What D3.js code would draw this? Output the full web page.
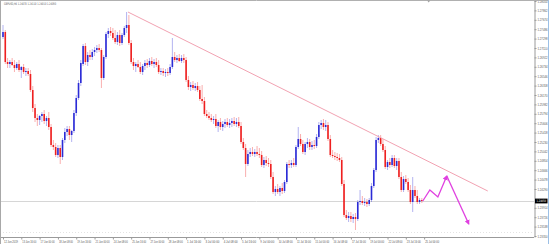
<!DOCTYPE html>
<html>
<head>
<meta charset="utf-8">
<script src="https://cdn.jsdelivr.net/npm/d3@7"></script>
<style>
  html, body { margin: 0; padding: 0; background: #fff; }
  svg { display: block; font-family: "DejaVu Sans", sans-serif; }
</style>
</head>
<body>
<svg id="chart" width="549" height="244"></svg>
<script>
// GBPUSD H4 bars (one value per bar)
const opens = [
  1.2733,1.2743,1.2683,1.2679,1.2683,1.2677,1.2671,1.2679,1.2667,1.2673,
  1.2663,1.2665,1.2659,1.2627,1.2591,1.2571,1.2567,1.2575,1.2579,1.2565,
  1.2571,1.2553,1.2517,1.2513,1.2497,1.2511,1.2493,1.2527,1.2543,1.2549,
  1.2537,1.2545,1.2581,1.2611,1.2641,1.2679,1.2715,1.2683,1.2697,1.2693,
  1.2703,1.2707,1.2711,1.2707,1.2651,1.2693,1.2739,1.2745,1.2741,1.2731,
  1.2723,1.2737,1.2721,1.2737,1.2751,1.2757,1.2721,1.2683,1.2675,1.2679,
  1.2673,1.2663,1.2675,1.2681,1.2677,1.2685,1.2679,1.2683,1.2677,1.2663,
  1.2665,1.2661,1.2663,1.2661,1.2673,1.2693,1.2687,1.2691,1.2685,1.2691,
  1.2687,1.2647,1.2633,1.2637,1.2631,1.2635,1.2627,1.2609,1.2605,1.2579,
  1.2575,1.2571,1.2567,1.2569,1.2555,1.2563,1.2553,1.2559,1.2563,1.2557,
  1.2561,1.2565,1.2559,1.2563,1.2555,1.2523,1.2511,1.2479,1.2499,1.2503,
  1.2499,1.2503,1.2499,1.2497,1.2477,1.2487,1.2481,1.2479,1.2453,1.2423,
  1.2429,1.2423,1.2431,1.2425,1.2443,1.2479,1.2477,1.2481,1.2477,1.2513,
  1.2529,1.2519,1.2503,1.2519,1.2523,1.2513,1.2517,1.2515,1.2533,1.2557,
  1.2561,1.2553,1.2557,1.2529,1.2497,1.2495,1.2493,1.2491,1.2487,1.2439,
  1.2377,1.2371,1.2375,1.2369,1.2373,1.2369,1.2403,1.2405,1.2401,1.2403,
  1.2399,1.2407,1.2435,1.2467,1.2527,1.2531,1.2519,1.2507,1.2473,1.2483,
  1.2477,1.2491,1.2475,1.2485,1.2453,1.2427,1.2449,1.2443,1.2427,1.2403,
  1.2427,1.2415,1.2403,1.2407
];
const highs = [
  1.2757,1.2747,1.2691,1.2687,1.2691,1.2687,1.2683,1.2687,1.2675,1.2679,
  1.2671,1.2671,1.2667,1.2635,1.2599,1.2579,1.2577,1.2583,1.2587,1.2575,
  1.2583,1.2559,1.2527,1.2521,1.2517,1.2517,1.2531,1.2551,1.2555,1.2555,
  1.2547,1.2587,1.2617,1.2647,1.2687,1.2719,1.2721,1.2703,1.2707,1.2709,
  1.2713,1.2717,1.2719,1.2711,1.2697,1.2743,1.2751,1.2753,1.2751,1.2747,
  1.2743,1.2747,1.2741,1.2755,1.2783,1.2777,1.2727,1.2691,1.2683,1.2687,
  1.2683,1.2679,1.2687,1.2689,1.2691,1.2693,1.2689,1.2691,1.2687,1.2671,
  1.2671,1.2669,1.2671,1.2679,1.2731,1.2703,1.2697,1.2699,1.2697,1.2699,
  1.2693,1.2655,1.2643,1.2645,1.2641,1.2643,1.2635,1.2637,1.2613,1.2587,
  1.2583,1.2579,1.2575,1.2579,1.2567,1.2571,1.2565,1.2569,1.2571,1.2569,
  1.2571,1.2573,1.2571,1.2573,1.2563,1.2531,1.2519,1.2507,1.2511,1.2513,
  1.2509,1.2515,1.2511,1.2505,1.2493,1.2495,1.2491,1.2487,1.2463,1.2435,
  1.2439,1.2435,1.2441,1.2447,1.2483,1.2487,1.2487,1.2491,1.2517,1.2553,
  1.2539,1.2527,1.2523,1.2531,1.2529,1.2525,1.2527,1.2539,1.2563,1.2567,
  1.2569,1.2567,1.2563,1.2537,1.2507,1.2503,1.2501,1.2499,1.2493,1.2447,
  1.2387,1.2383,1.2383,1.2379,1.2381,1.2407,1.2427,1.2415,1.2411,1.2409,
  1.2411,1.2441,1.2471,1.2533,1.2537,1.2537,1.2529,1.2515,1.2487,1.2491,
  1.2497,1.2497,1.2491,1.2491,1.2463,1.2455,1.2457,1.2451,1.2437,1.2453,
  1.2435,1.2427,1.2411,1.2411
];
const lows = [
  1.2729,1.2679,1.2671,1.2671,1.2675,1.2663,1.2667,1.2663,1.2651,1.2659,
  1.2655,1.2655,1.2623,1.2583,1.2563,1.2555,1.2557,1.2563,1.2559,1.2555,
  1.2547,1.2513,1.2507,1.2493,1.2491,1.2479,1.2487,1.2521,1.2535,1.2527,
  1.2523,1.2541,1.2575,1.2607,1.2635,1.2675,1.2677,1.2675,1.2687,1.2687,
  1.2695,1.2701,1.2703,1.2631,1.2647,1.2689,1.2731,1.2735,1.2727,1.2719,
  1.2717,1.2715,1.2717,1.2733,1.2741,1.2717,1.2679,1.2667,1.2663,1.2671,
  1.2659,1.2657,1.2667,1.2671,1.2673,1.2675,1.2671,1.2673,1.2659,1.2657,
  1.2655,1.2653,1.2655,1.2657,1.2669,1.2683,1.2681,1.2683,1.2681,1.2681,
  1.2643,1.2627,1.2625,1.2627,1.2625,1.2623,1.2605,1.2599,1.2575,1.2571,
  1.2567,1.2563,1.2559,1.2551,1.2543,1.2547,1.2545,1.2551,1.2553,1.2551,
  1.2553,1.2555,1.2553,1.2551,1.2519,1.2507,1.2453,1.2475,1.2493,1.2495,
  1.2493,1.2495,1.2491,1.2473,1.2471,1.2475,1.2473,1.2449,1.2419,1.2415,
  1.2419,1.2415,1.2419,1.2421,1.2439,1.2471,1.2471,1.2473,1.2473,1.2509,
  1.2515,1.2499,1.2497,1.2511,1.2507,1.2507,1.2509,1.2511,1.2529,1.2549,
  1.2547,1.2545,1.2525,1.2493,1.2491,1.2487,1.2485,1.2483,1.2435,1.2373,
  1.2367,1.2363,1.2363,1.2361,1.2347,1.2365,1.2397,1.2397,1.2395,1.2393,
  1.2395,1.2403,1.2431,1.2463,1.2521,1.2515,1.2503,1.2469,1.2467,1.2471,
  1.2473,1.2471,1.2467,1.2449,1.2423,1.2423,1.2439,1.2423,1.2399,1.2383,
  1.2411,1.2399,1.2399,1.2401
];
const closes = [
  1.2743,1.2683,1.2679,1.2683,1.2677,1.2671,1.2679,1.2667,1.2673,1.2663,
  1.2665,1.2659,1.2627,1.2591,1.2571,1.2567,1.2575,1.2579,1.2565,1.2571,
  1.2553,1.2517,1.2513,1.2497,1.2511,1.2493,1.2527,1.2543,1.2549,1.2537,
  1.2545,1.2581,1.2611,1.2641,1.2681,1.2715,1.2683,1.2697,1.2693,1.2703,
  1.2707,1.2711,1.2707,1.2651,1.2693,1.2739,1.2745,1.2741,1.2731,1.2723,
  1.2737,1.2721,1.2737,1.2751,1.2757,1.2721,1.2683,1.2675,1.2679,1.2673,
  1.2663,1.2675,1.2681,1.2677,1.2685,1.2679,1.2683,1.2677,1.2663,1.2665,
  1.2661,1.2663,1.2661,1.2673,1.2693,1.2687,1.2691,1.2685,1.2691,1.2687,
  1.2647,1.2633,1.2637,1.2631,1.2635,1.2627,1.2609,1.2605,1.2579,1.2575,
  1.2571,1.2567,1.2569,1.2555,1.2563,1.2553,1.2559,1.2563,1.2557,1.2561,
  1.2565,1.2559,1.2563,1.2555,1.2523,1.2511,1.2479,1.2499,1.2503,1.2499,
  1.2503,1.2499,1.2497,1.2477,1.2487,1.2481,1.2479,1.2453,1.2423,1.2429,
  1.2423,1.2431,1.2425,1.2443,1.2479,1.2477,1.2481,1.2477,1.2513,1.2529,
  1.2519,1.2503,1.2519,1.2523,1.2513,1.2517,1.2515,1.2533,1.2557,1.2561,
  1.2553,1.2557,1.2529,1.2497,1.2495,1.2493,1.2491,1.2487,1.2439,1.2377,
  1.2371,1.2375,1.2369,1.2373,1.2369,1.2403,1.2405,1.2401,1.2403,1.2399,
  1.2407,1.2435,1.2467,1.2527,1.2531,1.2519,1.2507,1.2473,1.2483,1.2477,
  1.2491,1.2475,1.2485,1.2453,1.2427,1.2449,1.2443,1.2427,1.2403,1.2427,
  1.2415,1.2403,1.2407,1.2405
];

// time axis labels, one every 8 bars
const timeLabels = [
  "12 Jun 2019", "13 Jun 16:00", "17 Jun 00:00", "18 Jun 08:00", "19 Jun 16:00",
  "21 Jun 00:00", "24 Jun 08:00", "25 Jun 16:00", "27 Jun 00:00", "28 Jun 08:00",
  "1 Jul 16:00", "3 Jul 00:00", "4 Jul 08:00", "5 Jul 16:00", "9 Jul 00:00",
  "10 Jul 08:00", "11 Jul 16:00", "15 Jul 00:00", "16 Jul 08:00", "17 Jul 16:00",
  "19 Jul 00:00", "22 Jul 08:00", "23 Jul 16:00", "25 Jul 00:00"
];
const labelStep = 8;

// price axis labels (the one under the last-price tag is hidden in the picture)
const priceLabels = [
  1.28050, 1.27862, 1.27674, 1.27486, 1.27298, 1.27110, 1.26922, 1.26734, 1.26546,
  1.26358, 1.26170, 1.25982, 1.25794, 1.25606, 1.25418, 1.25230, 1.25042, 1.24854,
  1.24666, 1.24478, 1.24290, 1.23914, 1.23726, 1.23538, 1.23350
];
const lastPrice = 1.24050;
const header = "GBPUSD,H4  1.24070 1.24110 1.24010 1.24050";

// drawn objects: [bar index, price]
const trendLine = [[54.6, 1.2783], [211.8, 1.2425]];
const forecast = [[183.4, 1.2405], [186.5, 1.2427], [190, 1.2413], [193.9, 1.2455], [203.5, 1.2359]];

const width = 549;
const height = 244;
const plot = { left: 0, right: 534, top: 0, bottom: 237 };
const upColor = "#2b2bd6";
const downColor = "#ee2020";
const fmt = d3.format(".5f");

const bars = opens.map((o, i) => ({ i, o, h: highs[i], l: lows[i], c: closes[i] }));

// squeeze tiny labels horizontally so they take the width seen in the picture
function squeeze(sel, w) {
  sel.each(function () {
    const el = d3.select(this);
    const k = w / this.getComputedTextLength();
    const x0 = +el.attr("x") || 0;
    el.attr("x", x0 / k).attr("transform", `scale(${k},1)`);
  });
}

const svg = d3.select("#chart");

const x = d3.scaleLinear().domain([0, 232]).range([3, plot.right]);
const y = d3.scaleLinear().domain([1.2333, 1.2807]).range([plot.bottom, plot.top]);

svg.append("rect").attr("width", width).attr("height", height).attr("fill", "#fff");

// current price line
svg.append("line")
  .attr("x1", plot.left).attr("x2", plot.right)
  .attr("y1", Math.round(y(lastPrice)) + 0.5).attr("y2", Math.round(y(lastPrice)) + 0.5)
  .attr("stroke", "#d6d6d6").attr("stroke-width", 1);

// faint dotted row just above the time axis
svg.append("line")
  .attr("x1", plot.left).attr("x2", plot.right)
  .attr("y1", plot.bottom - 4.5).attr("y2", plot.bottom - 4.5)
  .attr("stroke", "#e4e4e4").attr("stroke-dasharray", "1,2");

// candles
const candles = svg.append("g").attr("class", "candles");

candles.selectAll(".wick")
  .data(bars)
  .enter()
  .append("line")
  .attr("class", "wick")
  .attr("x1", (d) => x(d.i))
  .attr("x2", (d) => x(d.i))
  .attr("y1", (d) => y(d.h))
  .attr("y2", (d) => y(d.l))
  .attr("stroke", (d) => (d.c >= d.o ? upColor : downColor))
  .attr("stroke-opacity", 0.45)
  .attr("stroke-width", 0.8);

candles.selectAll(".body")
  .data(bars)
  .enter()
  .append("rect")
  .attr("class", "body")
  .attr("x", (d) => x(d.i) - 0.8)
  .attr("width", 1.6)
  .attr("y", (d) => y(Math.max(d.o, d.c)))
  .attr("height", (d) => Math.max(1, Math.abs(y(d.o) - y(d.c))))
  .attr("fill", (d) => (d.c >= d.o ? upColor : downColor));

// trend line
svg.append("line")
  .attr("x1", x(trendLine[0][0])).attr("y1", y(trendLine[0][1]))
  .attr("x2", x(trendLine[1][0])).attr("y2", y(trendLine[1][1]))
  .attr("stroke", "#f2a2b2").attr("stroke-width", 1);

// forecast path
svg.append("defs").append("marker")
  .attr("id", "head")
  .attr("viewBox", "0 0 10 10")
  .attr("refX", 8).attr("refY", 5)
  .attr("markerWidth", 4).attr("markerHeight", 4)
  .attr("orient", "auto")
  .append("path")
  .attr("d", "M0,0L10,5L0,10z")
  .attr("fill", "#e040e0");

const fcLine = d3.line().x((d) => x(d[0])).y((d) => y(d[1]));
svg.append("path")
  .attr("d", fcLine(forecast.slice(0, 4)))
  .attr("fill", "none").attr("stroke", "#e040e0").attr("stroke-width", 1.3)
  .attr("marker-end", "url(#head)");
svg.append("path")
  .attr("d", fcLine(forecast.slice(3)))
  .attr("fill", "none").attr("stroke", "#e040e0").attr("stroke-width", 1.3)
  .attr("marker-end", "url(#head)");

// price axis on the right
const yAxis = svg.append("g")
  .attr("transform", `translate(${plot.right + 0.5},0)`)
  .call(d3.axisRight(y).tickValues(priceLabels).tickFormat(fmt).tickSize(2).tickSizeOuter(0));
yAxis.select(".domain").attr("stroke", "#9a9a9a");
yAxis.selectAll(".tick line").attr("stroke", "#9a9a9a");
yAxis.selectAll(".tick text")
  .attr("x", 3)
  .attr("font-size", 3.2)
  .attr("fill", "#555");
squeeze(yAxis.selectAll(".tick text"), 10);

// last price tag
const tag = svg.append("g").attr("transform", `translate(${plot.right + 1},${y(lastPrice)})`);
tag.append("rect").attr("x", 0).attr("y", -2.4).attr("width", 12.5).attr("height", 4.8).attr("fill", "#000");
tag.append("text")
  .attr("x", 1.5).attr("dy", "0.35em")
  .attr("font-size", 3.2).attr("fill", "#fff")
  .text(fmt(lastPrice));
squeeze(tag.selectAll("text"), 9.5);

// time axis at the bottom
const xAxis = svg.append("g")
  .attr("transform", `translate(0,${plot.bottom + 0.5})`)
  .call(d3.axisBottom(x)
    .tickValues(timeLabels.map((t, k) => k * labelStep))
    .tickFormat((d, k) => timeLabels[k])
    .tickSize(2).tickSizeOuter(0));
xAxis.select(".domain").remove();
xAxis.selectAll(".tick line").attr("stroke", "#9a9a9a");
xAxis.selectAll(".tick text")
  .attr("text-anchor", "start")
  .attr("x", 0.5)
  .attr("y", 3)
  .attr("font-size", 3.4)
  .attr("fill", "#555");
squeeze(xAxis.selectAll(".tick text"), 14);

// frame
svg.append("line").attr("x1", 0).attr("x2", plot.right).attr("y1", plot.bottom + 0.5).attr("y2", plot.bottom + 0.5).attr("stroke", "#9a9a9a");
svg.append("line").attr("x1", 0).attr("x2", width).attr("y1", 0.5).attr("y2", 0.5).attr("stroke", "#b0b0b0");
svg.append("line").attr("x1", 0.5).attr("x2", 0.5).attr("y1", 0).attr("y2", height).attr("stroke", "#a8a8a8");
svg.append("line").attr("x1", width - 0.5).attr("x2", width - 0.5).attr("y1", 0).attr("y2", height).attr("stroke", "#9cc0e6");

// chart shift marker
svg.append("path")
  .attr("d", `M${x(186) - 1.5},0.5L${x(186) + 1.5},0.5L${x(186)},2.5z`)
  .attr("fill", "#a0a0a0");

// header
const head = svg.append("text")
  .attr("x", 4).attr("y", 5)
  .attr("font-size", 3.4).attr("fill", "#555")
  .text(header);
squeeze(head, 52);
</script>
</body>
</html>
